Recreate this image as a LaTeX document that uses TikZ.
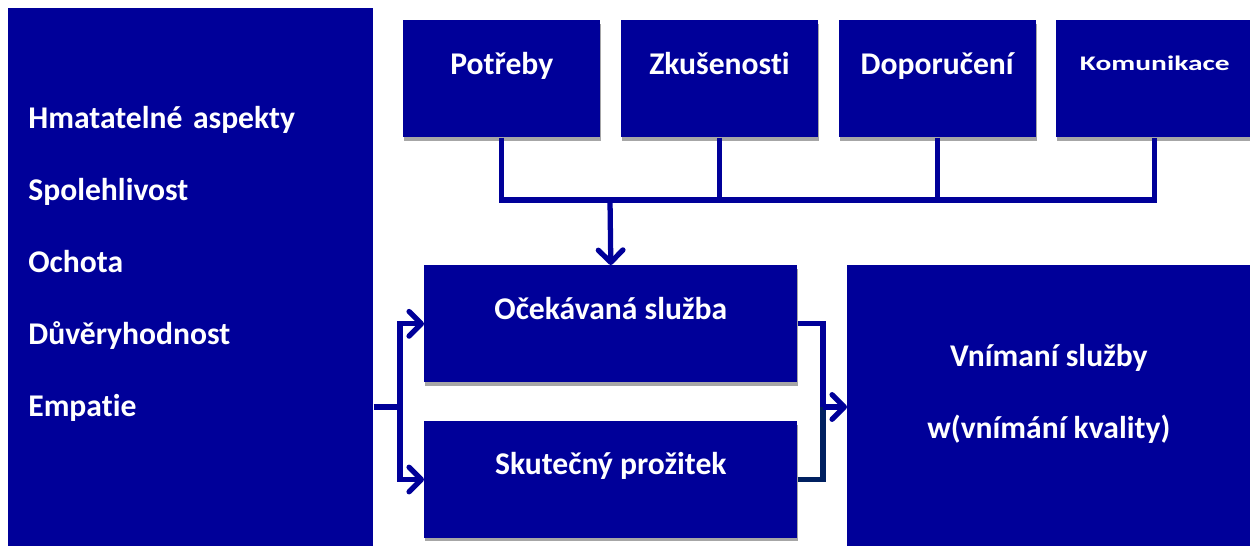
\documentclass[tikz,border=0pt]{standalone}
\usepackage{fontspec}
\setmainfont{Carlito}[Ligatures=NoCommon]
\usepackage{graphicx}
\usepackage{tikz}
\usetikzlibrary{arrows.meta,positioning,shadows}
\definecolor{boxblue}{HTML}{000099}
\definecolor{navyline}{HTML}{002060}
\definecolor{shadowgray}{HTML}{A6A6A6}

\begin{document}
\begin{tikzpicture}[
    x=0.02cm, y=-0.02cm,
    blk/.style={rectangle, fill=boxblue, text=white, anchor=north west, inner sep=0pt,
        font=\fontsize{18}{41}\selectfont\bfseries},
    shbox/.style={blk, drop shadow={shadow xshift=0.02cm, shadow yshift=-0.07cm, fill=shadowgray, opacity=1}},
    raised/.style={text height=12pt, text depth=17.5pt},
    link/.style={draw=boxblue, line width=3pt},
    headed/.style={-{Straight Barb[round,length=7pt,width=14pt]}}
]
\useasboundingbox (0,0) rectangle (1250,546);

% Left block
\node[blk, minimum width=7.3cm, minimum height=10.76cm, text width=6.5cm, inner xsep=0.4cm, align=left] (aspects) at (8,8)
    {Hmatatelné aspekty\\Spolehlivost\\Ochota\\Důvěryhodnost\\Empatie\\[-23pt]\mbox{}};

% Top row
\node[shbox, raised, minimum width=3.94cm, minimum height=2.34cm] (needs) at (403,20) {Potřeby};
\node[shbox, raised, minimum width=3.94cm, minimum height=2.34cm, right=0.4cm of needs] (exper) {Zkušenosti};
\node[shbox, raised, minimum width=3.94cm, minimum height=2.34cm, right=0.4cm of exper] (refer) {Doporučení};
\node[shbox, text height=12pt, text depth=21.5pt, minimum width=3.94cm, minimum height=2.34cm, right=0.4cm of refer] (comm)
    {\fontsize{11.8}{14}\selectfont\scalebox{1.42}[1]{Komunikace}};

% Middle
\node[shbox, raised, minimum width=7.46cm, minimum height=2.34cm] (expect) at (424,265) {Očekávaná služba};
\node[shbox, raised, minimum width=7.46cm, minimum height=2.34cm, below=0.76cm of expect] (actual) {Skutečný prožitek};

% Right
\node[shbox, minimum width=8.06cm, minimum height=5.62cm, align=center] (percv) at (847,265)
    {Vnímaní služby\\w(vnímání kvality)\\[-25pt]\mbox{}};

% Connectors
\coordinate (bus) at (610,200);
\coordinate (split) at (400,407);
\coordinate (merge) at (823,407);

\draw[link] (needs.south) |- (comm.south |- bus) -- (comm.south);
\draw[link] (exper.south) -- (exper.south |- bus);
\draw[link] (refer.south) -- (refer.south |- bus);
\draw[link, headed] (bus) -- (expect.north);

\draw[link] (aspects.east |- split) -- (split);
\draw[link, headed] (split) |- (expect.west);
\draw[link, headed] (split) |- (actual.west);

\draw[link] (expect.east) -| (merge);
\draw[link, draw=navyline] (actual.east) -| (merge);
\draw[link, headed] (merge) -- (percv.west |- merge);

\end{tikzpicture}
\end{document}
